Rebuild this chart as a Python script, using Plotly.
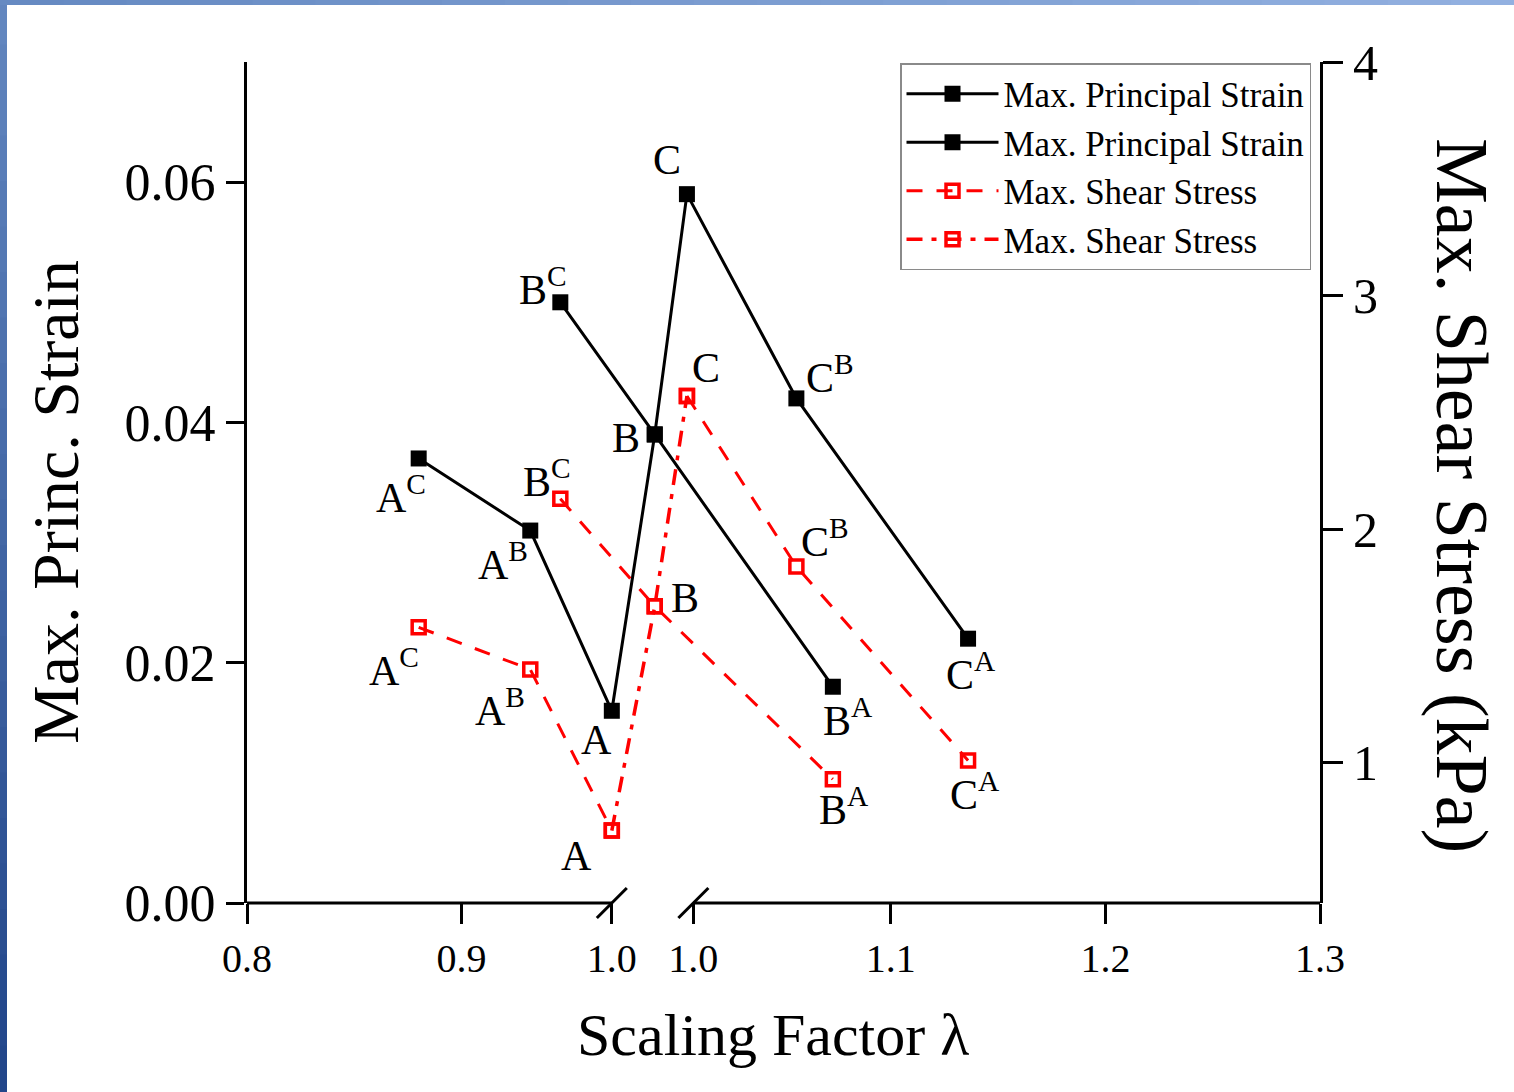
import plotly.graph_objects as go

# ---- data -------------------------------------------------------------
point_ids = ["AC", "AB", "A", "BC", "B", "BA", "C", "CB", "CA"]
point_text = ["A<sup>C</sup>", "A<sup>B</sup>", "A", "B<sup>C</sup>", "B",
              "B<sup>A</sup>", "C", "C<sup>B</sup>", "C<sup>A</sup>"]
scaling = [0.880, 0.932, 0.970, 0.946, 0.990, 1.073, 1.005, 1.056, 1.136]
strain = [0.037, 0.031, 0.016, 0.050, 0.039, 0.018, 0.059, 0.042, 0.022]
shear_kpa = [1.58, 1.40, 0.71, 2.13, 1.67, 0.93, 2.57, 1.84, 1.01]

# connection order of each plotted series
strain_path_1 = ["AC", "AB", "A", "B", "C", "CB", "CA"]
strain_path_2 = ["BC", "B", "BA"]
shear_dashed_paths = [["AC", "AB", "A"], ["BC", "B", "BA"], ["C", "CB", "CA"]]
shear_dashdot_path = ["A", "B", "C"]

x_tickvals = [0.8, 0.9, 0.97, 1.008, 1.1, 1.2, 1.3]
x_ticktext = ["0.8", "0.9", "1.0", "1.0", "1.1", "1.2", "1.3"]
x_breaks = [0.97, 1.008]
top_tickvals = [0.9, 1.0, 1.1, 1.2]
y_tickvals = [0.00, 0.02, 0.04, 0.06]
y_ticktext = ["0.00", "0.02", "0.04", "0.06"]
y2_tickvals = [1, 2, 3, 4]

# label offsets (px) for the strain and stress point labels
strain_label_shift = [(-18, -36), (-27, -31), (-15, -29), (-17, 16), (-29, -4),
                      (15, -31), (-20, 34), (34, 24), (3, -33)]
shear_label_shift = [(-25, -40), (-30, -38), (-35, -25), (-13, 20), (30, 8),
                     (11, -27), (19, 28), (29, 28), (7, -31)]

# ---- helpers ------------------------------------------------------------
idx = {p: i for i, p in enumerate(point_ids)}


def path_xy(path, values):
    return [scaling[idx[p]] for p in path], [values[idx[p]] for p in path]


def multi_path_xy(paths, values):
    xs, ys = [], []
    for k, path in enumerate(paths):
        if k:
            xs.append(None)
            ys.append(None)
        px, py = path_xy(path, values)
        xs += px
        ys += py
    return xs, ys


FONT = "Liberation Serif, Times New Roman, serif"
W, H = 1514, 1092
L, R, T, B = 247, 194, 62, 189
PW, PH = W - L - R, H - T - B


def px_to_paper(px, py):
    return (px - L) / PW, (H - B - py) / PH


fig = go.Figure()

black_marker = dict(symbol="square", size=16, color="black")
red_marker = dict(symbol="square-open", size=13, color="#ff0000",
                  line=dict(width=3.5, color="#ff0000"))

x1, y1 = path_xy(strain_path_1, strain)
fig.add_trace(go.Scatter(x=x1, y=y1, mode="lines+markers", name="Max. Principal Strain",
                         line=dict(color="black", width=3), marker=black_marker))
x2, y2 = path_xy(strain_path_2, strain)
fig.add_trace(go.Scatter(x=x2, y=y2, mode="lines+markers", name="Max. Principal Strain",
                         line=dict(color="black", width=3), marker=black_marker))
x3, y3 = multi_path_xy(shear_dashed_paths, shear_kpa)
fig.add_trace(go.Scatter(x=x3, y=y3, mode="lines+markers", name="Max. Shear Stress",
                         yaxis="y2", connectgaps=False,
                         line=dict(color="#ff0000", width=3, dash="16px,14px"),
                         marker=red_marker))
x4, y4 = path_xy(shear_dashdot_path, shear_kpa)
fig.add_trace(go.Scatter(x=x4, y=y4, mode="lines+markers", name="Max. Shear Stress",
                         yaxis="y2",
                         line=dict(color="#ff0000", width=3.5, dash="16px,9px,5px,9px"),
                         marker=red_marker))

# point labels
annotations = []
for i, txt in enumerate(point_text):
    dx, dy = strain_label_shift[i]
    annotations.append(dict(x=scaling[i], y=strain[i], xref="x", yref="y", text=txt,
                            showarrow=False, xshift=dx, yshift=dy,
                            xanchor="center", yanchor="middle",
                            font=dict(family=FONT, size=42, color="black")))
    dx, dy = shear_label_shift[i]
    annotations.append(dict(x=scaling[i], y=shear_kpa[i], xref="x", yref="y2", text=txt,
                            showarrow=False, xshift=dx, yshift=dy,
                            xanchor="center", yanchor="middle",
                            font=dict(family=FONT, size=42, color="black")))

# axis titles
for text, (cx, cy), angle, size in [
    ("Scaling Factor λ", (773, 1035), 0, 60),
    ("Max. Princ. Strain", (55, 502), -90, 66),
    ("Max. Shear Stress (kPa)", (1462, 495), 90, 74),
]:
    ax, ay = px_to_paper(cx, cy)
    annotations.append(dict(x=ax, y=ay, xref="paper", yref="paper", text=text,
                            showarrow=False, textangle=angle,
                            xanchor="center", yanchor="middle",
                            font=dict(family=FONT, size=size, color="black")))

shapes = []
# bottom axis line, interrupted between the two break marks
shapes.append(dict(type="line", xref="x", yref="paper", x0=0.8, x1=x_breaks[0],
                   y0=0, y1=0, line=dict(color="black", width=3)))
shapes.append(dict(type="line", xref="x", yref="paper", x0=x_breaks[1], x1=1.3,
                   y0=0, y1=0, line=dict(color="black", width=3)))
for xb in x_breaks:
    shapes.append(dict(type="line", xref="x", yref="paper", xsizemode="pixel",
                       ysizemode="pixel", xanchor=xb, yanchor=0,
                       x0=-15, x1=15, y0=-15, y1=15,
                       line=dict(color="black", width=3)))

# blue slide frame along the left and top edges
n = 24
for k in range(n):
    f = k / (n - 1)
    r = int(0x62 + (0x22 - 0x62) * f)
    g = int(0x86 + (0x46 - 0x86) * f)
    b = int(0xbf + (0x8a - 0xbf) * f)
    shapes.append(dict(type="rect", xref="paper", yref="paper", layer="above",
                       x0=-L / PW, x1=(-L + 7) / PW,
                       y0=(-B + H * (1 - (k + 1) / n)) / PH, y1=(-B + H * (1 - k / n) + 1) / PH,
                       fillcolor=f"rgb({r},{g},{b})", line=dict(width=0)))
for k in range(n):
    f = k / (n - 1)
    r = int(0x66 + (0x92 - 0x66) * f)
    g = int(0x8a + (0xb0 - 0x8a) * f)
    b = int(0xc2 + (0xe0 - 0xc2) * f)
    shapes.append(dict(type="rect", xref="paper", yref="paper", layer="above",
                       x0=(-L + W * k / n) / PW, x1=(-L + W * (k + 1) / n + 1) / PW,
                       y0=(PH + T - 5) / PH, y1=(PH + T) / PH,
                       fillcolor=f"rgb({r},{g},{b})", line=dict(width=0)))

lx, ly = px_to_paper(900, 63)
fig.update_layout(
    width=W, height=H,
    margin=dict(l=L, r=R, t=T, b=B, pad=0),
    paper_bgcolor="white", plot_bgcolor="white",
    font=dict(family=FONT, color="black"),
    showlegend=True,
    legend=dict(x=lx, y=ly, xanchor="left", yanchor="top",
                bgcolor="white", bordercolor="#8a8a8a", borderwidth=1.5,
                font=dict(family=FONT, size=35, color="black"),
                itemwidth=92, tracegroupgap=0),
    xaxis=dict(range=[0.8, 1.3], showgrid=False, zeroline=False, showline=False,
               tickmode="array", tickvals=x_tickvals, ticktext=x_ticktext,
               ticks="outside", ticklen=20, tickwidth=3, tickcolor="black",
               tickfont=dict(family=FONT, size=40, color="black")),
    xaxis2=dict(range=[0.8, 1.3], overlaying="x", side="top", showgrid=False,
                zeroline=False, showline=True, linewidth=3, linecolor="black",
                tickmode="array", tickvals=top_tickvals, showticklabels=False,
                ticks="inside", ticklen=18, tickwidth=3, tickcolor="black"),
    yaxis=dict(range=[0, 0.07], showgrid=False, zeroline=False, showline=True,
               linewidth=3, linecolor="black",
               tickmode="array", tickvals=y_tickvals, ticktext=y_ticktext,
               ticks="outside", ticklen=18, tickwidth=3, tickcolor="black",
               tickfont=dict(family=FONT, size=52, color="black")),
    yaxis2=dict(range=[0.4, 4.0], overlaying="y", side="right", showgrid=False,
                zeroline=False, showline=True, linewidth=3, linecolor="black",
                tickmode="array", tickvals=y2_tickvals,
                ticks="outside", ticklen=20, tickwidth=3, tickcolor="black",
                tickfont=dict(family=FONT, size=50, color="black")),
    annotations=annotations,
    shapes=shapes,
)

fig.write_html("out.html")
